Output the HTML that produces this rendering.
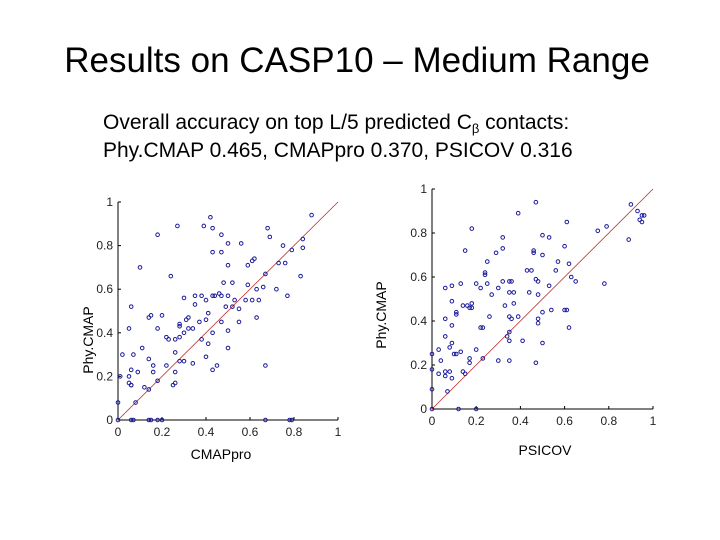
<!DOCTYPE html>
<html><head><meta charset="utf-8"><style>
body{margin:0;width:720px;height:540px;background:#fff;overflow:hidden;font-family:"Liberation Sans",sans-serif}
svg{position:absolute;left:0;top:0}
</style></head><body>
<svg id="s" width="720" height="540">
<text x="357" y="72" font-size="35" text-anchor="middle" fill="#000">Results on CASP10 – Medium Range</text>
<text x="103" y="129" font-size="21" fill="#000">Overall accuracy on top L/5  predicted C<tspan font-size="13" dy="4">β</tspan><tspan dy="-4"> contacts:</tspan></text>
<text x="103" y="157" font-size="21" fill="#000">Phy.CMAP 0.465, CMAPpro 0.370, PSICOV 0.316</text>
<text x="221" y="459" font-size="14" text-anchor="middle">CMAPpro</text>
<text x="545" y="455" font-size="14" text-anchor="middle">PSICOV</text>
<text transform="translate(93,340) rotate(-90)" font-size="14" text-anchor="middle">Phy.CMAP</text>
<text transform="translate(386,315) rotate(-90)" font-size="14" text-anchor="middle">Phy.CMAP</text>
</svg>
<script>
const ticks=[0,0.2,0.4,0.6,0.8,1];
const tickLabels=["0","0.2","0.4","0.6","0.8","1"];
const leftX=[0.27,0.42,0.39,0.43,0.88,0.18,0.47,0.50,0.56,0.68,0.69,0.84,0.75,0.84,0.79,0.43,0.47,0.62,0.61,0.59,0.50,0.73,0.76,0.10,0.67,0.83,0.24,0.52,0.48,0.59,0.66,0.72,0.63,0.77,0.06,0.30,0.35,0.38,0.43,0.44,0.46,0.47,0.50,0.53,0.58,0.61,0.64,0.40,0.35,0.49,0.52,0.55,0.20,0.14,0.15,0.41,0.63,0.32,0.31,0.37,0.40,0.47,0.55,0.28,0.28,0.18,0.32,0.34,0.05,0.50,0.30,0.43,0.22,0.23,0.26,0.28,0.38,0.41,0.50,0.11,0.02,0.07,0.40,0.26,0.14,0.28,0.30,0.34,0.45,0.67,0.16,0.22,0.43,0.06,0.09,0.16,0.26,0.01,0.05,0.05,0.06,0.06,0.18,0.26,0.25,0.12,0.14,0.08,0,0,0.06,0.07,0.14,0.15,0.18,0.20,0.67,0.78,0.79];
const leftY=[0.89,0.93,0.89,0.88,0.94,0.85,0.85,0.81,0.81,0.88,0.84,0.83,0.80,0.79,0.78,0.77,0.77,0.74,0.73,0.71,0.71,0.72,0.72,0.70,0.67,0.66,0.66,0.63,0.63,0.62,0.61,0.60,0.60,0.57,0.52,0.56,0.57,0.57,0.57,0.57,0.58,0.57,0.57,0.55,0.55,0.55,0.55,0.55,0.53,0.52,0.52,0.51,0.48,0.47,0.48,0.49,0.47,0.47,0.46,0.45,0.46,0.45,0.45,0.44,0.43,0.42,0.42,0.42,0.42,0.41,0.40,0.40,0.38,0.37,0.37,0.38,0.37,0.35,0.33,0.33,0.30,0.30,0.29,0.31,0.28,0.27,0.27,0.26,0.25,0.25,0.25,0.25,0.23,0.23,0.22,0.22,0.22,0.20,0.20,0.17,0.16,0.16,0.18,0.17,0.16,0.15,0.14,0.08,0.08,0,0,0,0,0,0,0,0,0,0];
const rightX=[0.47,0.39,0.90,0.93,0.95,0.96,0.94,0.95,0.61,0.18,0.75,0.79,0.50,0.53,0.32,0.89,0.60,0.32,0.15,0.29,0.46,0.46,0.50,0.25,0.57,0.62,0.43,0.45,0.56,0.24,0.24,0.63,0.47,0.48,0.65,0.20,0.25,0.32,0.35,0.36,0.78,0.06,0.09,0.13,0.22,0.30,0.53,0.35,0.37,0.27,0.44,0.48,0.09,0.14,0.16,0.18,0.17,0.18,0.33,0.37,0.54,0.60,0.61,0.11,0.11,0.26,0.35,0.39,0.06,0.36,0.48,0.50,0.09,0.48,0.62,0.22,0.23,0.35,0.06,0.34,0.35,0.41,0.50,0.09,0.08,0.03,0.13,0.20,0.10,0.11,0.00,0.04,0.23,0.30,0.35,0.47,0.17,0.17,0.00,0.03,0.06,0.06,0.09,0.14,0.15,0.08,0.07,0,0,0.12,0.20];
const rightY=[0.94,0.89,0.93,0.90,0.88,0.88,0.86,0.85,0.85,0.82,0.81,0.83,0.79,0.78,0.78,0.77,0.74,0.73,0.72,0.71,0.72,0.71,0.70,0.67,0.67,0.66,0.63,0.63,0.63,0.62,0.61,0.60,0.59,0.58,0.58,0.57,0.57,0.58,0.58,0.58,0.57,0.55,0.56,0.57,0.55,0.55,0.56,0.53,0.53,0.52,0.53,0.52,0.49,0.47,0.47,0.48,0.46,0.46,0.47,0.48,0.45,0.45,0.45,0.44,0.43,0.42,0.42,0.42,0.41,0.41,0.41,0.44,0.38,0.39,0.37,0.37,0.37,0.35,0.33,0.33,0.31,0.31,0.30,0.30,0.28,0.27,0.26,0.27,0.25,0.25,0.25,0.22,0.23,0.22,0.22,0.21,0.23,0.21,0.18,0.16,0.17,0.15,0.14,0.17,0.16,0.17,0.08,0.09,0,0,0];
const NS="http://www.w3.org/2000/svg";
const svg=document.getElementById('s');
function mk(tag,attrs,parent){const e=document.createElementNS(NS,tag);for(const k in attrs)e.setAttribute(k,attrs[k]);(parent||svg).appendChild(e);return e;}
function chart(name,x0,y0,x1,y1,xs,ys){
  const sx=v=>x0+(x1-x0)*v, sy=v=>y0-(y0-y1)*v;
  const g=mk('g',{});
  
  
  const ax=mk('path',{d:`M${x0},${sy(1)}V${y0}H${sx(1)}`,stroke:'#000',fill:'none','stroke-width':1},g);
  
  
  ticks.forEach((t,i)=>{
    mk('line',{x1:sx(t),x2:sx(t),y1:y0,y2:y0-3,stroke:'#000'},g);
    mk('line',{x1:x0,x2:x0+3,y1:sy(t),y2:sy(t),stroke:'#000'},g);
    const xl=mk('text',{x:sx(t),y:y0+16,'font-size':12,'text-anchor':'middle',fill:'#222'},g);
    xl.textContent=tickLabels[i];
    
    
    const yl=mk('text',{x:x0-5,y:sy(t)+4,'font-size':12,'text-anchor':'end',fill:'#222'},g);
    yl.textContent=tickLabels[i];
    
    
  });
  const dl=mk('line',{x1:sx(0),y1:sy(0),x2:sx(1),y2:sy(1),stroke:'#c03030','stroke-width':0.8},g);
  
  
  xs.forEach((v,i)=>{
    const c=mk('circle',{cx:sx(v),cy:sy(ys[i]),r:1.8,fill:'none',stroke:'#1a1a9a','stroke-width':1},g);
    
    
  });
}
chart('left-scatter-cmappro',118,420,338,202,leftX,leftY);
chart('right-scatter-psicov',432,409,653,189,rightX,rightY);
</script>
</body></html>
